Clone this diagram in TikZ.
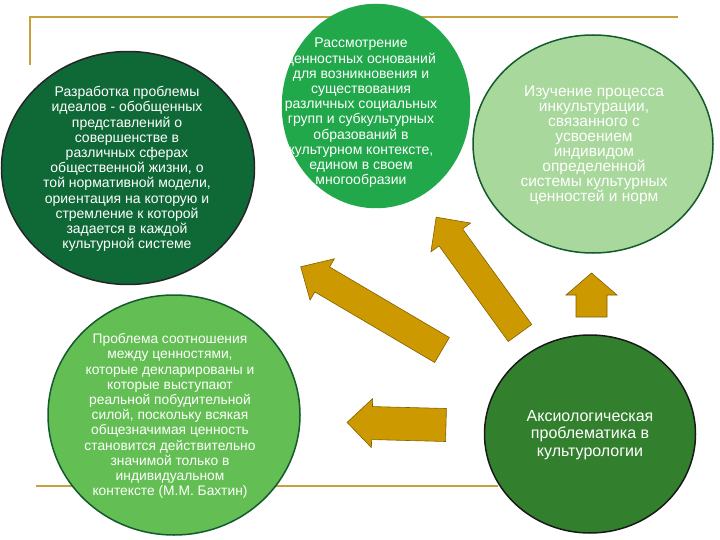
\documentclass[tikz,border=0pt]{standalone}
\usepackage{fontspec}
\setmainfont{Liberation Sans}
\usetikzlibrary{shapes.geometric}
\definecolor{cdark}{RGB}{15,105,55}
\definecolor{cmid}{RGB}{33,168,74}
\definecolor{clight}{RGB}{168,216,155}
\definecolor{cbl}{RGB}{99,190,83}
\definecolor{cbr}{RGB}{50,128,45}
\definecolor{cedge}{RGB}{20,90,45}
\definecolor{gold}{RGB}{204,153,0}
\definecolor{goldedge}{RGB}{130,95,0}
\definecolor{framegold}{RGB}{200,160,60}
% #1 tail point, #2 angle, #3 length, #4 shaft half width, #5 head half width, #6 head length
\newcommand\blockarrow[6]{%
  \draw[goldarrow, shift={#1}, rotate=#2]
    (0,-#4) -- ({#3-#6},-#4) -- ({#3-#6},-#5) -- (#3,0) -- ({#3-#6},#5) -- ({#3-#6},#4) -- (0,#4) -- cycle;}
\begin{document}
\begin{tikzpicture}[x=1pt,y=-1pt,
  bubble/.style={ellipse, inner sep=0pt, line width=1.5pt},
  txt/.style={text=white, align=center, inner sep=0pt, font=\fontsize{14}{15.2}\selectfont},
  txtc/.style={text=white, align=center, inner sep=0pt, font=\fontsize{15.5}{15}\selectfont},
  txtd/.style={text=white, align=center, inner sep=0pt, font=\fontsize{13.8}{15.2}\selectfont},
  bigtxt/.style={text=white, align=center, inner sep=0pt, font=\fontsize{16}{17.5}\selectfont},
  goldarrow/.style={fill=gold, draw=goldedge, line width=0.6pt, line join=miter},
  frameline/.style={draw=framegold, line width=2pt}]
\useasboundingbox (0,0) rectangle (720,540);
% frame lines
\draw[frameline] (30,65) -- (30,17) -- (678,17);
\draw[frameline] (36,486) -- (498,486);
% circles
\node[bubble, fill=cdark, draw=black!85, minimum width=253pt, minimum height=233pt] (c1) at (128,168) {};
\node[bubble, fill=cmid, draw=cmid, minimum width=187pt, minimum height=203pt] (c2) at (376,106) {};
\node[bubble, fill=clight, draw=cedge, minimum width=240pt, minimum height=218pt] (c3) at (593,144) {};
\node[bubble, fill=cbl, draw=cedge, minimum width=252pt, minimum height=240pt] (c4) at (174,415) {};
\node[bubble, fill=cbr, draw=black!90, minimum width=211pt, minimum height=198pt] (c5) at (590,434) {};
% block arrows
\blockarrow{(520,333)}{125.9}{143}{14.5}{24.5}{25}
\blockarrow{(442,350)}{149.5}{164}{14.5}{24}{25}
\blockarrow{(446,425)}{178.5}{99}{16.5}{24.5}{25}
\blockarrow{(591.5,317)}{90}{44}{15.5}{25.5}{22}
% texts
\node[txt] (t1) at (127,169) {Разработка проблемы\\идеалов - обобщенных\\представлений о\\совершенстве в\\различных сферах\\общественной жизни, о\\той нормативной модели,\\ориентация на которую и\\стремление к которой\\задается в каждой\\культурной системе};
\node[txt] (t2) at (361,113) {Рассмотрение\\ценностных оснований\\для возникновения и\\существования\\различных социальных\\групп и субкультурных\\образований в\\культурном контексте,\\едином в своем\\многообразии};
\node[txtc] (t3) at (594,145) {Изучение процесса\\инкультурации,\\связанного с\\усвоением\\индивидом\\определенной\\системы культурных\\ценностей и норм};
\node[txtd] (t4) at (170,416) {Проблема соотношения\\между ценностями,\\которые декларированы и\\которые выступают\\реальной побудительной\\силой, поскольку всякая\\общезначимая ценность\\становится действительно\\значимой только в\\индивидуальном\\контексте (М.М. Бахтин)};
\node[bigtxt] (t5) at (590,435) {Аксиологическая\\проблематика в\\культурологии};
\end{tikzpicture}
\end{document}
